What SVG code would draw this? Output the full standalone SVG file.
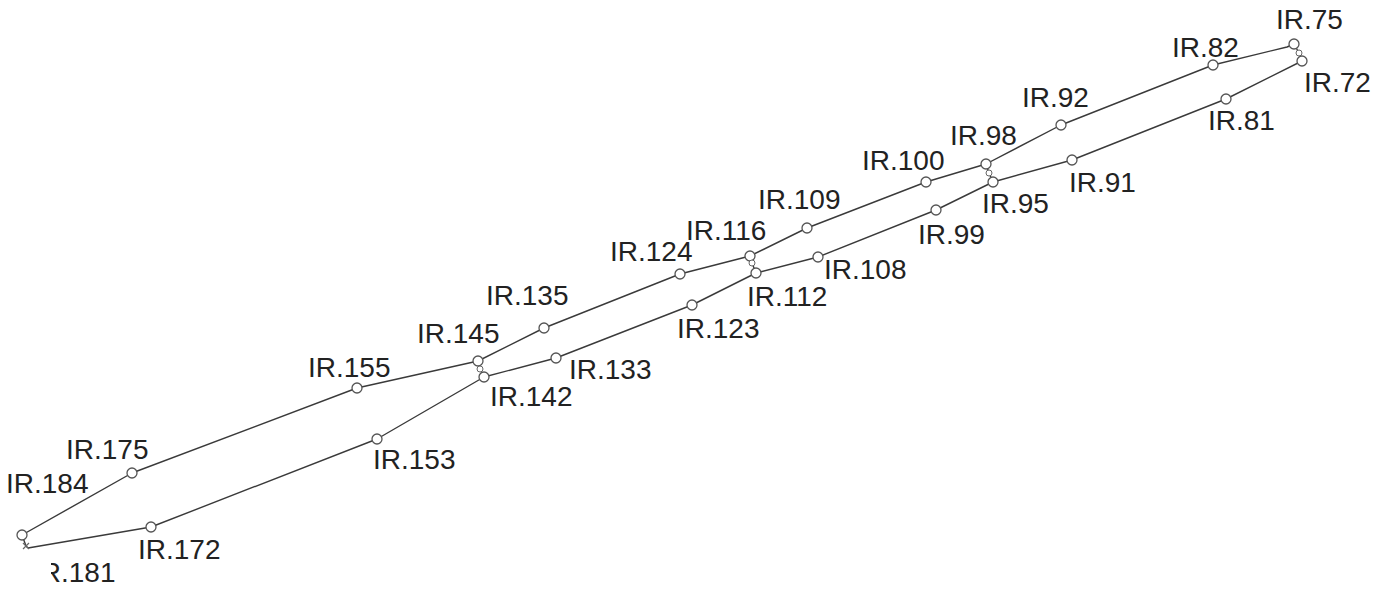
<svg xmlns="http://www.w3.org/2000/svg" width="1387" height="598" viewBox="0 0 1387 598">
<style>
.ln{fill:none;stroke:#3a3a3a;stroke-width:1.4;stroke-linejoin:round}
.pt{fill:#fff;stroke:#555;stroke-width:1.3}
.sp{fill:#fff;stroke:#666;stroke-width:1}
text{font-family:"Liberation Sans",Arial,sans-serif;font-size:28px;fill:#222}
</style>
<defs>
<clipPath id="cut"><rect x="51" y="540" width="120" height="58"/></clipPath>
</defs>
<rect width="1387" height="598" fill="#fff"/>
<g id="connectors">
<polyline class="ln" points="22,535 132,473 357,388 478,361 544,328 680,274 750,256 807,228 926,182 986,164 1061,125 1213,65 1287,47 1294,44"/>
<polyline class="ln" points="28,548 151,527 377,439 484,377 556,358 692,305 756,273 818,257 936,210 993,182 1072,160 1226,99 1302,61"/>
<polyline class="ln" points="1294,44 1299,53 1302,61"/>
<polyline class="ln" points="986,164 989,173 993,182"/>
<polyline class="ln" points="750,256 752,263 756,273"/>
<polyline class="ln" points="478,361 480,369 484,377"/>
<polyline class="ln" points="22,535 26,546 28,548"/>
</g>
<g id="n75"><circle class="pt" cx="1294" cy="44" r="5"/><text x="1276" y="29">IR.75</text></g>
<g id="n72"><circle class="sp" cx="1299" cy="53" r="3"/><circle class="pt" cx="1302" cy="61" r="5"/><text x="1304" y="92">IR.72</text></g>
<g id="n82"><circle class="pt" cx="1213" cy="65" r="5"/><text x="1172" y="57">IR.82</text></g>
<g id="n81"><circle class="pt" cx="1226" cy="99" r="5"/><text x="1208" y="130">IR.81</text></g>
<g id="n92"><circle class="pt" cx="1061" cy="125" r="5"/><text x="1022" y="107">IR.92</text></g>
<g id="n98"><circle class="pt" cx="986" cy="164" r="5"/><text x="950" y="145">IR.98</text></g>
<g id="n95"><circle class="sp" cx="989" cy="173" r="3"/><circle class="pt" cx="993" cy="182" r="5"/><text x="982" y="213">IR.95</text></g>
<g id="n91"><circle class="pt" cx="1072" cy="160" r="5"/><text x="1069" y="192">IR.91</text></g>
<g id="n100"><circle class="pt" cx="926" cy="182" r="5"/><text x="862" y="170">IR.100</text></g>
<g id="n99"><circle class="pt" cx="936" cy="210" r="5"/><text x="918" y="244">IR.99</text></g>
<g id="n109"><circle class="pt" cx="807" cy="228" r="5"/><text x="758" y="209">IR.109</text></g>
<g id="n108"><circle class="pt" cx="818" cy="257" r="5"/><text x="824" y="279">IR.108</text></g>
<g id="n116"><circle class="pt" cx="750" cy="256" r="5"/><text x="686" y="240">IR.116</text></g>
<g id="n112"><circle class="sp" cx="752" cy="263" r="3"/><circle class="pt" cx="756" cy="273" r="5"/><text x="747" y="306">IR.112</text></g>
<g id="n124"><circle class="pt" cx="680" cy="274" r="5"/><text x="610" y="261">IR.124</text></g>
<g id="n123"><circle class="pt" cx="692" cy="305" r="5"/><text x="677" y="338">IR.123</text></g>
<g id="n135"><circle class="pt" cx="544" cy="328" r="5"/><text x="486" y="305">IR.135</text></g>
<g id="n133"><circle class="pt" cx="556" cy="358" r="5"/><text x="569" y="379">IR.133</text></g>
<g id="n145"><circle class="pt" cx="478" cy="361" r="5"/><text x="417" y="343">IR.145</text></g>
<g id="n142"><circle class="sp" cx="480" cy="369" r="3"/><circle class="pt" cx="484" cy="377" r="5"/><text x="490" y="406">IR.142</text></g>
<g id="n155"><circle class="pt" cx="357" cy="388" r="5"/><text x="308" y="377">IR.155</text></g>
<g id="n153"><circle class="pt" cx="377" cy="439" r="5"/><text x="373" y="469">IR.153</text></g>
<g id="n175"><circle class="pt" cx="132" cy="473" r="5"/><text x="66" y="459">IR.175</text></g>
<g id="n184"><circle class="pt" cx="22" cy="535" r="5"/><text x="6" y="493">IR.184</text></g>
<g id="n172"><circle class="pt" cx="151" cy="527" r="5"/><text x="138" y="559">IR.172</text></g>
<g id="n181"><path d="M23,543 L29,549 M29,543 L23,549" stroke="#666" stroke-width="1.2"/><text x="33" y="582" clip-path="url(#cut)">IR.181</text></g>
</svg>
